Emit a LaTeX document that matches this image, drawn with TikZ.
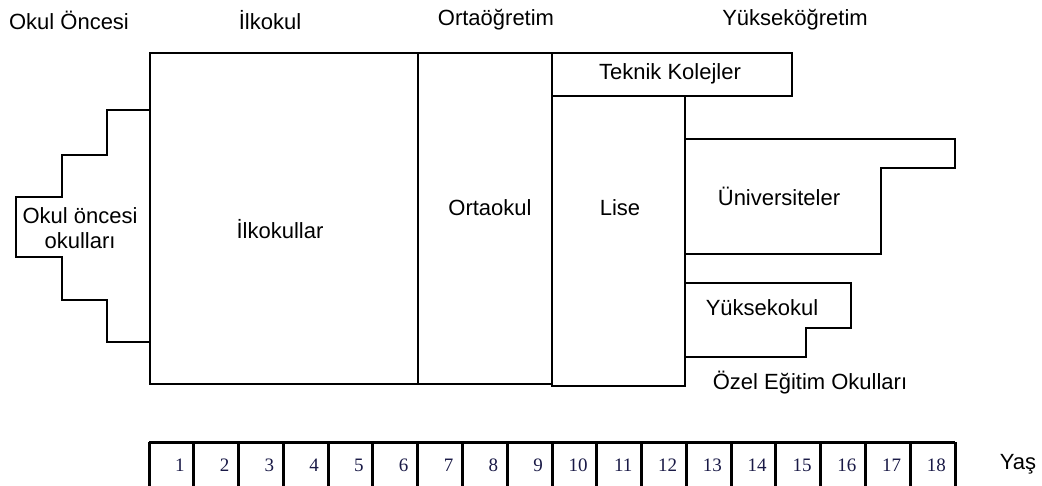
\documentclass[tikz,border=0pt]{standalone}
\usepackage{fontspec}
\setmainfont{Liberation Sans}
\newfontfamily\numfont{Liberation Serif}
\definecolor{numcol}{RGB}{25,25,70}
\begin{document}
\begin{tikzpicture}[x=1pt,y=-1pt,
  lbl/.style={inner sep=0pt, font=\fontsize{22}{25}\selectfont},
  numlbl/.style={inner sep=0pt, anchor=east, text=numcol, font=\numfont\fontsize{19}{20}\selectfont},
  outline/.style={draw=black, line width=2.4pt, line join=miter},
  barline/.style={draw=black, line width=3pt}]
\useasboundingbox (0,0) rectangle (1042,486);

% headings
\node[lbl] (hOkul) at (69,20) {Okul Öncesi};
\node[lbl] (hIlk) at (270,20) {İlkokul};
\node[lbl] (hOrta) at (496,20) {Ortaöğretim};
\node[lbl] (hYuk) at (795,20) {Yükseköğretim};

% pre-school stepped shape
\draw[outline] (150,110) -- (107,110) -- (107,155) -- (62,155) -- (62,197) -- (16,197)
  -- (16,257) -- (62,257) -- (62,300) -- (107,300) -- (107,342) -- (150,342);
% primary school
\draw[outline] (150,53) rectangle (418,384);
% middle school
\draw[outline] (418,53) rectangle (552,384);
% technical colleges
\draw[outline] (552,53) rectangle (792,96);
% high school
\draw[outline] (552,96) -- (552,386) -- (685,386) -- (685,96);
% universities
\draw[outline] (685,139) -- (955,139) -- (955,168) -- (881,168) -- (881,254) -- (685,254);
% vocational school
\draw[outline] (685,283) -- (851,283) -- (851,328) -- (806,328) -- (806,357) -- (685,357);

% labels
\node[lbl, align=center] (okulOncesi) at (80,228) {Okul öncesi\\okulları};
\node[lbl] (ilkokullar) at (280,229) {İlkokullar};
\node[lbl] (ortaokul) at (490,208) {Ortaokul};
\node[lbl] (lise) at (620,208) {Lise};
\node[lbl] (teknik) at (670,74) {Teknik Kolejler};
\node[lbl] (univ) at (779,196) {Üniversiteler};
\node[lbl] (yuksekokul) at (762,308) {Yüksekokul};
\node[lbl] (ozel) at (810,383) {Özel Eğitim Okulları};

% age bar
\draw[barline] (149,442) -- (955,442);
\foreach \i in {0,...,18} {
  \draw[barline] ({149+44.78*\i},442) -- ({149+44.78*\i},490);
}
\foreach \i in {1,...,18} {
  \node[numlbl] (age\i) at ({149+44.78*\i-9},465) {\i};
}
\node[lbl] (yas) at (1018,464) {Yaş};
\end{tikzpicture}
\end{document}
